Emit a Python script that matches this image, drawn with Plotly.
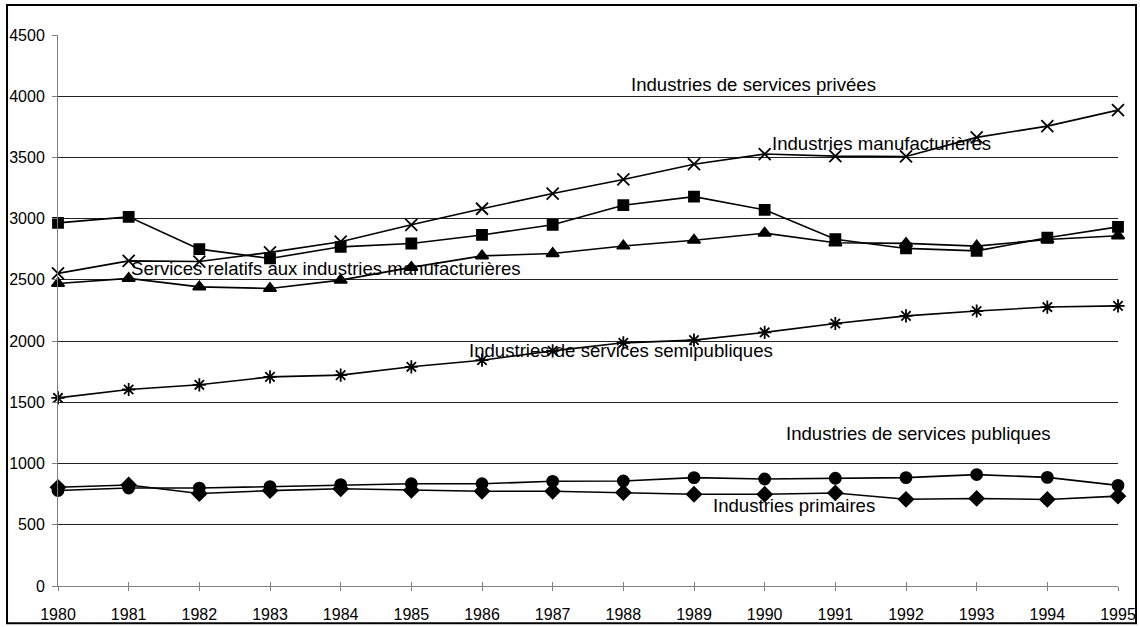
import plotly.graph_objects as go

# Years on the horizontal axis
years = list(range(1980, 1996))

# Series values, one list per industry group
privees = [2553, 2655, 2650, 2725, 2812, 2950, 3081, 3205, 3320, 3445, 3528, 3511, 3508, 3664, 3756, 3887]
manufacturieres = [2966, 3015, 2751, 2675, 2770, 2797, 2867, 2950, 3110, 3180, 3072, 2832, 2757, 2737, 2844, 2933]
services_relatifs = [2471, 2512, 2443, 2430, 2498, 2602, 2696, 2715, 2777, 2824, 2882, 2803, 2798, 2776, 2830, 2860]
semipubliques = [1536, 1605, 1643, 1708, 1722, 1790, 1844, 1920, 1986, 2008, 2071, 2144, 2206, 2246, 2278, 2288]
publiques = [780, 800, 800, 812, 828, 835, 835, 855, 858, 885, 874, 880, 885, 910, 887, 822]
primaires = [806, 825, 755, 779, 794, 782, 774, 774, 763, 749, 749, 760, 708, 715, 707, 734]

# Y tick values
y_ticks = [0, 500, 1000, 1500, 2000, 2500, 3000, 3500, 4000, 4500]

# In-chart series labels: (text, x, y)
labels = [
    ("Industries de services privées", 1989.84, 4099),
    ("Industries manufacturières", 1991.66, 3617),
    ("Services relatifs aux industries manufacturières", 1983.79, 2596),
    ("Industries de services semipubliques", 1987.97, 1926),
    ("Industries de services publiques", 1992.18, 1248),
    ("Industries primaires", 1990.42, 654),
]

FONT = "Liberation Sans, Arial, sans-serif"

series = [
    ("Industries de services privées", privees, "x-thin-open", 12),
    ("Industries manufacturières", manufacturieres, "square", 10),
    ("Services relatifs aux industries manufacturières", services_relatifs, "triangle-up", 11),
    ("Industries de services semipubliques", semipubliques, "asterisk-open", 11),
    ("Industries de services publiques", publiques, "circle", 11),
    ("Industries primaires", primaires, "diamond", 11),
]

fig = go.Figure()
for name, vals, sym, size in series:
    fig.add_trace(go.Scatter(
        x=years, y=vals, name=name, mode="lines+markers",
        line=dict(color="black", width=1.6),
        marker=dict(symbol=sym, size=size, color="black",
                    line=dict(color="black", width=1.8)),
        cliponaxis=False, showlegend=False,
    ))

# Invisible trace carrying the secondary x axis (inner tick marks)
fig.add_trace(go.Scatter(x=[years[0], years[-1]], y=[0, 0], xaxis="x2",
                         mode="none", showlegend=False, hoverinfo="skip"))

for text, lx, ly in labels:
    fig.add_annotation(x=lx, y=ly, text=text, showarrow=False,
                       xref="x", yref="y", font=dict(family=FONT, size=18.6, color="black"))

# Outer frame around the chart
fig.add_shape(type="rect", xref="paper", yref="paper",
              x0=-0.0481, x1=1.017, y0=-0.0677, y1=1.0545,
              line=dict(color="black", width=2), fillcolor="rgba(0,0,0,0)")

fig.update_layout(
    width=1140, height=627,
    margin=dict(l=58, r=22, t=35, b=41),
    paper_bgcolor="white", plot_bgcolor="white",
    font=dict(family=FONT, size=16, color="black"),
    xaxis=dict(range=[1980, 1995], tickmode="array", tickvals=years,
               ticktext=[str(y) for y in years],
               showgrid=False, zeroline=False, automargin=False,
               showline=True, linecolor="#808080", linewidth=1,
               ticks="outside", ticklen=4, tickcolor="#808080",
               ticklabelstandoff=10,
               tickfont=dict(family=FONT, size=16, color="black")),
    xaxis2=dict(range=[1980, 1995], overlaying="x", anchor="y",
                tickmode="array", tickvals=years, showticklabels=False,
                showgrid=False, zeroline=False, showline=False, automargin=False,
                ticks="inside", ticklen=4, tickcolor="#808080"),
    yaxis=dict(range=[0, 4500], tickmode="array", tickvals=y_ticks,
               ticktext=[str(v) for v in y_ticks],
               showgrid=True, gridcolor="#222222", gridwidth=1,
               zeroline=False, automargin=False,
               showline=True, linecolor="#808080", linewidth=1,
               ticks="outside", ticklen=5, tickcolor="#808080",
               ticklabelstandoff=4,
               tickfont=dict(family=FONT, size=16, color="black")),
)

fig.write_html("out.html")
